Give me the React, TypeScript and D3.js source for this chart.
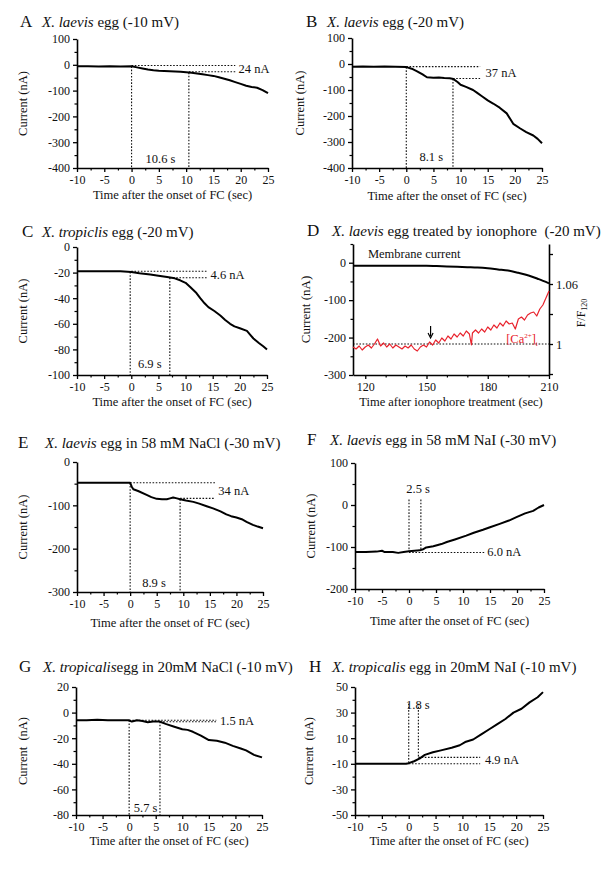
import React, { useEffect, useRef } from "react";
import * as d3 from "d3";

type Pt = [number, number];

const FONT = "'Liberation Serif', 'Times New Roman', serif";

// shared time axis (sec after onset of FC)
const timeTicks = [-10, -5, 0, 5, 10, 15, 20, 25];
const timeMinor = [-7.5, -2.5, 2.5, 7.5, 12.5, 17.5, 22.5];

// A  X. laevis egg (-10 mV)
const traceA: Pt[] = [
  [-10, -6], [-8, -6], [-6, -7], [-4, -6], [-2, -7], [0, -6], [1, -10], [2, -14], [3, -18], [4, -21],
  [5, -23], [6, -24], [7, -25], [8, -26], [9, -27], [10, -29], [11, -31], [12, -34], [13, -37], [14, -40],
  [15, -43], [16, -48], [17, -54], [18, -60], [19, -67], [20, -74], [21, -81], [22, -86], [23, -89],
  [24, -98], [25, -110],
];
// B  X. laevis egg (-20 mV)
const traceB: Pt[] = [
  [-10, -11], [-8, -10], [-6, -11], [-4, -10], [-2, -11], [0, -12], [1, -18], [2, -28], [3, -40], [3.8, -51],
  [5, -53], [6, -52], [7, -54], [8, -55], [8.7, -58], [9.5, -70], [10, -80], [11, -88], [12.3, -100],
  [13, -110], [14, -125], [15, -140], [16, -152], [17.2, -168], [18.5, -190], [19.7, -230], [21, -248],
  [22.1, -262], [23.4, -275], [24.2, -288], [25, -305],
];
// C  X. tropiclis egg (-20 mV)
const traceC: Pt[] = [
  [-10, -19], [-8, -19], [-6, -19], [-4, -19], [-2, -19], [0, -19.5], [1.5, -20.5], [3.5, -21.5], [5, -22.5],
  [6.6, -23.5], [8, -24.5], [9, -26], [10, -28], [10.9, -31.5], [12, -36], [12.7, -40], [13.5, -44],
  [14.2, -47], [15.3, -50], [16.4, -53.5], [17.3, -57], [18.2, -60], [19, -62], [20, -63.5], [21.3, -65.5],
  [22, -69], [22.5, -71.5], [23.5, -75], [24.3, -77.5], [25, -80],
];
// E  X. laevis egg in 58 mM NaCl (-30 mV)
const traceE: Pt[] = [
  [-10, -48], [-8, -48], [-6, -48], [-4, -48], [-2, -48], [0, -48], [0.3, -57], [0.6, -63], [1.5, -67],
  [3.1, -76], [4, -81], [5, -85], [6, -86], [6.9, -86], [7.5, -84], [8.1, -82], [8.8, -84], [9.4, -86],
  [10.5, -89], [11.9, -92], [13, -96], [14.4, -102], [15.6, -107], [17, -114], [18.1, -121], [19, -125],
  [20, -128], [21, -132], [21.9, -138], [23.1, -145], [24, -149], [25, -153],
];
// F  X. laevis egg in 58 mM NaI (-30 mV)
const traceF: Pt[] = [
  [-10, -112], [-8, -112], [-6, -111], [-5, -109], [-4.5, -112], [-3, -112], [-2, -114], [-1, -112],
  [0, -110], [1, -109], [2, -108], [2.5, -106], [3.2, -101], [4.5, -98], [6, -93], [7, -88], [8.5, -82],
  [10.6, -73], [12, -66], [13.7, -59], [15, -53], [16.8, -45], [18.5, -37], [19.9, -29], [21.5, -20],
  [23, -14], [24, -6], [25, 0],
];
// G  X. tropicalis egg in 20mM NaCl (-10 mV)
const traceG: Pt[] = [
  [-10, -6], [-8, -6], [-6, -5.5], [-4, -6], [-2, -6], [0, -6], [0.5, -7], [1.5, -6], [2.5, -6.5],
  [3.5, -7.5], [4.5, -7], [5.7, -7], [7, -9], [8.5, -11], [10, -13], [11, -13.5], [12, -15], [13.5, -18],
  [15, -21.5], [16.5, -22], [18, -23.5], [19.5, -26], [21, -28], [22, -29.5], [23.5, -33], [25, -35],
];
// H  X. tropicalis egg in 20mM NaI (-10 mV)
const traceH: Pt[] = [
  [-10, -10], [-8, -10], [-6, -10], [-4, -10], [-2, -10], [-0.5, -10], [0, -9.5], [1, -8], [2, -6], [3, -3],
  [4.5, -1], [6, 0.5], [8, 2.5], [9.5, 4.5], [10.5, 7], [12, 9], [13.5, 13], [15, 17], [16.5, 21], [18, 25],
  [19.5, 30], [21, 33], [22.5, 38], [24, 42], [25, 46],
];

// D  ionophore treatment
const ionoTicks = [120, 150, 180, 210];
const ionoMinor = [130, 140, 160, 170, 190, 200];
const membraneD: Pt[] = [
  [114, -8], [120, -8], [130, -8], [140, -8], [150, -8], [155, -9], [160, -10], [165, -11], [170, -12],
  [175, -13], [180, -15], [185, -18], [190, -21], [195, -27], [200, -34], [205, -44], [210, -55],
];
const calciumD: Pt[] = [
  [114, 0.997], [115.5, 0.995], [117, 0.998], [118.5, 0.994], [120, 0.997], [121.5, 0.999], [123, 0.996],
  [124.5, 1.0], [126, 1.005], [127.5, 0.998], [129, 1.001], [130.5, 0.997], [132, 1.0], [133.5, 0.996],
  [135, 0.999], [136.5, 0.997], [138, 0.995], [139.5, 0.998], [141, 0.996], [142.5, 0.999], [144, 0.995],
  [145.5, 0.993], [147, 0.997], [148.5, 0.999], [150, 0.997], [151.5, 1.002], [153, 0.999], [154.5, 1.004],
  [156, 1.001], [157.5, 1.006], [159, 1.003], [160.5, 1.008], [162, 1.005], [163.5, 1.01], [165, 1.007],
  [166.5, 1.011], [168, 1.008], [169.5, 1.013], [171, 1.01], [172, 0.999], [172.5, 1.011], [174, 1.014],
  [175.5, 1.011], [177, 1.015], [178.5, 1.012], [180, 1.017], [181.5, 1.014], [183, 1.019], [184.5, 1.016],
  [186, 1.021], [187.5, 1.018], [189, 1.023], [190.5, 1.02], [192, 1.021], [193.5, 1.015], [195, 1.025],
  [196.5, 1.027], [198, 1.024], [199.5, 1.029], [201, 1.031], [202.5, 1.032], [204, 1.028], [205.5, 1.035],
  [207, 1.039], [208.5, 1.046], [210, 1.053],
];
const ratioTicks = [0.97, 1, 1.03, 1.06, 1.09];
const ratioLabels: Record<string, string> = { "1": "1", "1.06": "1.06" };

interface Panel {
  letter: string;
  italic: string;
  rest: string;
  title: [number, number, number]; // letter x, baseline y, text x
  frame: [number, number, number, number]; // x0, x1, y0, y1
  yDomain: [number, number];
  yMajor: number[];
  yMinor: number[];
  trace: Pt[];
  hDots: [number, number, number][]; // value, from t, to t
  vDots: [number, number, number][]; // t, from value, to value
  notes: [number, number, string, string][]; // t, value, text, anchor
  yLabel: string;
  yLabelDx: number;
  xTitleDy: number;
}

const panels: Panel[] = [
  {
    letter: "A", italic: "X. laevis", rest: " egg (-10 mV)", title: [20, 27, 42],
    frame: [77, 268, 39, 168], yDomain: [-400, 100],
    yMajor: [100, 0, -100, -200, -300, -400], yMinor: [50, -50, -150, -250, -350],
    trace: traceA,
    hDots: [[-3, 0, 19], [-27, 10.5, 19]],
    vDots: [[0, -6, -400], [10.5, -30, -400]],
    notes: [[19.6, -15, "24 nA", "start"], [5.3, -365, "10.6 s", "middle"]],
    yLabel: "Current (nA)", yLabelDx: -50, xTitleDy: 31,
  },
  {
    letter: "B", italic: "X. laevis", rest: " egg (-20 mV)", title: [306, 27, 327],
    frame: [352, 542, 38, 168], yDomain: [-400, 100],
    yMajor: [100, 0, -100, -200, -300, -400], yMinor: [50, -50, -150, -250, -350],
    trace: traceB,
    hDots: [[-10, 0, 13.6], [-56, 8.6, 13.6]],
    vDots: [[0, -12, -400], [8.6, -57, -400]],
    notes: [[14.6, -32, "37 nA", "start"], [4.6, -356, "8.1 s", "middle"]],
    yLabel: "Current (nA)", yLabelDx: -48, xTitleDy: 32,
  },
  {
    letter: "C", italic: "X. tropiclis", rest: " egg (-20 mV)", title: [22, 237, 42],
    frame: [77, 267, 247, 375], yDomain: [-100, 0],
    yMajor: [0, -20, -40, -60, -80, -100], yMinor: [-10, -30, -50, -70, -90],
    trace: traceC,
    hDots: [[-19, 0, 14.1], [-24, 7.1, 14.1]],
    vDots: [[-0.2, -19.5, -100], [7.1, -24, -100]],
    notes: [[14.6, -21.3, "4.6 nA", "start"], [3.4, -91, "6.9 s", "middle"]],
    yLabel: "Current (nA)", yLabelDx: -50, xTitleDy: 31,
  },
  {
    letter: "E", italic: "X. laevis", rest: " egg in 58 mM NaCl (-30 mV)", title: [18, 448, 45],
    frame: [77, 263, 462, 592], yDomain: [-300, 0],
    yMajor: [0, -100, -200, -300], yMinor: [-50, -150, -250],
    trace: traceE,
    hDots: [[-48, 0, 16], [-84, 9.4, 16]],
    vDots: [[0, -48, -300], [9.4, -86, -300]],
    notes: [[16.6, -67, "34 nA", "start"], [4.5, -279, "8.9 s", "middle"]],
    yLabel: "Current (nA)", yLabelDx: -50, xTitleDy: 35,
  },
  {
    letter: "F", italic: "X. laevis", rest: " egg in 58 mM NaI (-30 mV)", title: [307, 445, 330],
    frame: [355, 544, 463, 589], yDomain: [-200, 100],
    yMajor: [100, 0, -100, -200], yMinor: [50, -50, -150],
    trace: traceF,
    hDots: [[-113, 0, 14.1]],
    vDots: [[0, 13, -110], [2.2, 13, -107]],
    notes: [[14.5, -112, "6.0 nA", "start"], [1.7, 40, "2.5 s", "middle"]],
    yLabel: "Current (nA)", yLabelDx: -40, xTitleDy: 36,
  },
  {
    letter: "G", italic: "X. tropicalis", rest: "egg in 20mM NaCl (-10 mV)", title: [19, 672, 43],
    frame: [76, 262, 687, 815], yDomain: [-80, 20],
    yMajor: [20, 0, -20, -40, -60, -80], yMinor: [10, -10, -30, -50, -70],
    trace: traceG,
    hDots: [[-6, 0, 16.4], [-7.2, 5.8, 16.4]],
    vDots: [[0, -6, -80], [5.8, -7, -80]],
    notes: [[17.1, -6.6, "1.5 nA", "start"], [3.1, -74.5, "5.7 s", "middle"]],
    yLabel: "Current  (nA)", yLabelDx: -49, xTitleDy: 30,
  },
  {
    letter: "H", italic: "X. tropicalis", rest: " egg in 20mM NaI (-10 mV)", title: [309, 672, 332],
    frame: [355, 543, 687, 815], yDomain: [-50, 50],
    yMajor: [50, 30, 10, -10, -30, -50], yMinor: [40, 20, 0, -20, -40],
    trace: traceH,
    hDots: [[-10, 0, 13.3], [-5, 1.8, 13.3]],
    vDots: [[0, 37, -10], [1.8, 37, -6]],
    notes: [[14.2, -6.5, "4.9 nA", "start"], [1.7, 36.5, "1.8 s", "middle"]],
    yLabel: "Current  (nA)", yLabelDx: -42, xTitleDy: 30,
  },
];

type G = d3.Selection<SVGGElement, unknown, null, undefined>;

function styleAxis(a: G) {
  a.attr("font-family", FONT).attr("font-size", 12);
  a.select(".domain").attr("stroke", "#000").attr("stroke-width", 1.6);
  a.selectAll(".tick line").attr("stroke", "#000").attr("stroke-width", 1.3);
  a.selectAll(".tick text").attr("fill", "#111");
}

function minor(a: G) {
  a.select(".domain").remove();
  a.selectAll(".tick line").attr("stroke", "#000").attr("stroke-width", 1.2);
}

function dotted(g: G, x1: number, y1: number, x2: number, y2: number) {
  g.append("line")
    .attr("x1", x1).attr("y1", y1).attr("x2", x2).attr("y2", y2)
    .attr("stroke", "#111").attr("stroke-width", 1.1).attr("stroke-dasharray", "1.6,1.6");
}

function title(g: G, letter: string, italic: string, rest: string, pos: [number, number, number]) {
  const t = g.append("text").attr("y", pos[1]).attr("font-family", FONT).attr("fill", "#111")
    .attr("xml:space", "preserve");
  t.append("tspan").attr("x", pos[0]).attr("font-size", 17).text(letter);
  t.append("tspan").attr("x", pos[2]).attr("font-size", 15).attr("font-style", "italic").text(italic);
  t.append("tspan").attr("font-size", 15).text(rest);
}

function drawPanel(svg: d3.Selection<SVGSVGElement, unknown, null, undefined>, p: Panel) {
  const [x0, x1, y0, y1] = p.frame;
  const x = d3.scaleLinear().domain([-10, 25]).range([x0, x1]);
  const y = d3.scaleLinear().domain(p.yDomain).range([y1, y0]);
  const g = svg.append("g") as unknown as G;

  p.hDots.forEach(([v, a, b]) => dotted(g, x(a), y(v), x(b), y(v)));
  p.vDots.forEach(([t, a, b]) => dotted(g, x(t), y(a), x(t), y(b)));

  minor(g.append("g").attr("transform", `translate(0,${y1})`)
    .call(d3.axisBottom(x).tickValues(timeMinor).tickSize(2.5).tickFormat(() => "")) as unknown as G);
  minor(g.append("g").attr("transform", `translate(${x0},0)`)
    .call(d3.axisLeft(y).tickValues(p.yMinor).tickSize(2.5).tickFormat(() => "")) as unknown as G);
  styleAxis(g.append("g").attr("transform", `translate(0,${y1})`)
    .call(d3.axisBottom(x).tickValues(timeTicks).tickSize(4).tickSizeOuter(0).tickPadding(3.5)
      .tickFormat((d) => String(d))) as unknown as G);
  styleAxis(g.append("g").attr("transform", `translate(${x0},0)`)
    .call(d3.axisLeft(y).tickValues(p.yMajor).tickSize(4).tickSizeOuter(0).tickPadding(3)
      .tickFormat((d) => String(d))) as unknown as G);

  g.append("path").datum(p.trace)
    .attr("d", d3.line<Pt>().x((d) => x(d[0])).y((d) => y(d[1])))
    .attr("fill", "none").attr("stroke", "#000").attr("stroke-width", 2).attr("stroke-linejoin", "round");

  p.notes.forEach(([t, v, s, anchor]) => {
    g.append("text").attr("x", x(t)).attr("y", y(v)).attr("dy", "0.35em")
      .attr("text-anchor", anchor).attr("font-family", FONT).attr("font-size", 12.5).attr("fill", "#111").text(s);
  });

  title(g, p.letter, p.italic, p.rest, p.title);
  g.append("text").attr("x", (x0 + x1) / 2).attr("y", y1 + p.xTitleDy).attr("text-anchor", "middle")
    .attr("font-family", FONT).attr("font-size", 12.5).attr("fill", "#111").text("Time after the onset of FC (sec)");
  g.append("text").attr("transform", `translate(${x0 + p.yLabelDx},${(y0 + y1) / 2}) rotate(-90)`)
    .attr("text-anchor", "middle").attr("font-family", FONT).attr("font-size", 12.5).attr("fill", "#111")
    .attr("xml:space", "preserve").style("white-space", "pre").text(p.yLabel);
}

function drawPanelD(svg: d3.Selection<SVGSVGElement, unknown, null, undefined>) {
  const [x0, x1, y0, y1] = [353, 549, 244, 375];
  const x = d3.scaleLinear().domain([114, 210]).range([x0, x1]);
  const y = d3.scaleLinear().domain([-300, 50]).range([y1, y0]);
  const r = d3.scaleLinear().domain([0.969, 1.1]).range([y1, y0]);
  const g = svg.append("g") as unknown as G;

  dotted(g, x(114), r(1), x(210), r(1));

  minor(g.append("g").attr("transform", `translate(0,${y1})`)
    .call(d3.axisBottom(x).tickValues(ionoMinor).tickSize(2.5).tickFormat(() => "")) as unknown as G);
  minor(g.append("g").attr("transform", `translate(${x0},0)`)
    .call(d3.axisLeft(y).tickValues([50, -50, -150, -250]).tickSize(2.5).tickFormat(() => "")) as unknown as G);
  styleAxis(g.append("g").attr("transform", `translate(0,${y1})`)
    .call(d3.axisBottom(x).tickValues(ionoTicks).tickSize(4).tickSizeOuter(0).tickPadding(3.5)
      .tickFormat((d) => String(d))) as unknown as G);
  styleAxis(g.append("g").attr("transform", `translate(${x0},0)`)
    .call(d3.axisLeft(y).tickValues([0, -100, -200, -300]).tickSize(4).tickSizeOuter(0).tickPadding(3)
      .tickFormat((d) => String(d))) as unknown as G);
  const ra = g.append("g").attr("transform", `translate(${x1},0)`)
    .call(d3.axisRight(r).tickValues(ratioTicks).tickSize(4).tickSizeOuter(0).tickPadding(3)
      .tickFormat((d) => ratioLabels[String(d)] ?? "")) as unknown as G;
  styleAxis(ra);
  ra.attr("font-size", 12.5);

  g.append("path").datum(calciumD)
    .attr("d", d3.line<Pt>().x((d) => x(d[0])).y((d) => r(d[1])))
    .attr("fill", "none").attr("stroke", "#e8222c").attr("stroke-width", 1.2).attr("stroke-linejoin", "round");
  g.append("path").datum(membraneD)
    .attr("d", d3.line<Pt>().x((d) => x(d[0])).y((d) => y(d[1])).curve(d3.curveMonotoneX))
    .attr("fill", "none").attr("stroke", "#000").attr("stroke-width", 2);

  // arrow marking the onset of the calcium rise
  const ax = x(152);
  g.append("line").attr("x1", ax).attr("x2", ax).attr("y1", r(1.018)).attr("y2", r(1.008))
    .attr("stroke", "#000").attr("stroke-width", 1.2);
  g.append("path")
    .attr("d", `M${ax - 2.5},${r(1.011)} L${ax},${r(1.006)} L${ax + 2.5},${r(1.011)}`)
    .attr("fill", "none").attr("stroke", "#000").attr("stroke-width", 1.2);

  g.append("text").attr("x", x(121.3)).attr("y", y(13)).attr("font-family", FONT).attr("font-size", 12.5)
    .attr("fill", "#111").text("Membrane current");
  const ca = g.append("text").attr("x", x(189)).attr("y", r(1.0015)).attr("font-family", FONT)
    .attr("font-size", 12.5).attr("fill", "#e8222c");
  ca.append("tspan").text("[Ca");
  ca.append("tspan").attr("font-size", 7).attr("dy", -5).text("2+");
  ca.append("tspan").attr("dy", 5).text("]");
  ca.append("tspan").attr("font-size", 7).attr("dy", 3).text("i");

  title(g, "D", "X. laevis", " egg treated by ionophore  (-20 mV)", [307, 236, 332]);
  g.append("text").attr("x", (x0 + x1) / 2).attr("y", y1 + 31).attr("text-anchor", "middle")
    .attr("font-family", FONT).attr("font-size", 12.5).attr("fill", "#111").text("Time after ionophore treatment (sec)");
  g.append("text").attr("transform", `translate(${x0 - 43},${(y0 + y1) / 2}) rotate(-90)`)
    .attr("text-anchor", "middle").attr("font-family", FONT).attr("font-size", 13).attr("fill", "#111").text("Current (nA)");
  const fl = g.append("text").attr("transform", `translate(585,313) rotate(-90)`)
    .attr("text-anchor", "middle").attr("font-family", FONT).attr("font-size", 12).attr("fill", "#111");
  fl.append("tspan").text("F/F");
  fl.append("tspan").attr("font-size", 8).attr("dy", 2).text("120");
}

export default function App() {
  const ref = useRef<SVGSVGElement | null>(null);

  useEffect(() => {
    const svg = d3.select(ref.current as SVGSVGElement);
    svg.selectAll("*").remove();
    panels.forEach((p) => drawPanel(svg, p));
    drawPanelD(svg);
  }, []);

  return (
    <svg
      ref={ref}
      width={609}
      height={888}
      style={{ position: "absolute", left: 0, top: 0, background: "#fff" }}
    ></svg>
  );
}
